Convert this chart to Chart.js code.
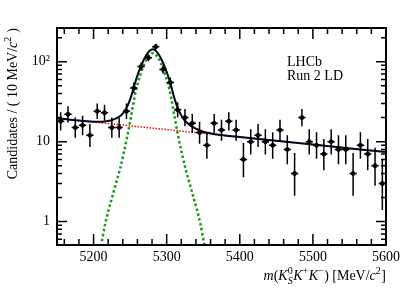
<!DOCTYPE html>
<html>
<head>
<meta charset="utf-8">
<script src="https://cdn.jsdelivr.net/npm/chart.js@4"></script>
<style>
  html, body { margin: 0; padding: 0; background: #fff; }
  #wrap { width: 407px; height: 292px; }
</style>
</head>
<body>
<div id="wrap"><canvas id="grafico"></canvas></div>
<script>
// dados (bins de 10 MeV)
const masses = [5155, 5165, 5175, 5185, 5195, 5205, 5215, 5225, 5235, 5245,
                5255, 5265, 5275, 5285, 5295, 5305, 5315, 5325, 5335, 5345,
                5355, 5365, 5375, 5385, 5395, 5405, 5415, 5425, 5435, 5445,
                5455, 5465, 5475, 5485, 5495, 5505, 5515, 5525, 5535, 5545,
                5555, 5565, 5575, 5585, 5595];
const counts = [18, 22, 15, 16, 12, 24, 23, 15, 15, 24,
                47, 87, 112, 154, 80, 55, 25, 20, 17, 13,
                9, 17, 14, 18, 14, 6, 10, 12, 10, 9,
                14, 8, 4, 20, 10, 9, 7, 10, 8, 8,
                4, 9, 7, 5, 3];
const errLow = [13.8, 17.4, 11.2, 12.0, 8.6, 19.2, 18.3, 11.2, 11.2, 19.2,
                40.2, 77.7, 101.4, 141.6, 71.1, 47.6, 20.1, 15.6, 12.9, 9.4,
                6.1, 12.9, 10.3, 13.8, 10.3, 3.6, 6.9, 8.6, 6.9, 6.1,
                10.3, 5.2, 2.1, 15.6, 6.9, 6.1, 4.4, 6.9, 5.2, 5.2,
                2.1, 6.1, 4.4, 2.8, 1.4];
const errHigh = [23.3, 27.8, 20.0, 21.1, 16.6, 30.0, 28.9, 20.0, 20.0, 30.0,
                 54.9, 97.4, 123.6, 167.4, 90.0, 63.4, 31.1, 25.6, 22.2, 17.7,
                 13.1, 22.2, 18.8, 23.3, 18.8, 9.6, 14.3, 16.6, 14.3, 13.1,
                 18.8, 12.0, 7.2, 25.6, 14.3, 13.1, 10.8, 14.3, 12.0, 12.0,
                 7.2, 13.1, 10.8, 8.4, 5.9];

// curvas do ajuste
const bkgMass = [5150, 5200, 5250, 5300, 5350, 5400, 5450, 5500, 5550, 5600];
const bkgYield = [19.6, 17.59, 15.78, 14.16, 12.71, 11.41, 10.24, 9.19, 8.24, 7.40];

const sigMass = [5196, 5201, 5206, 5211, 5216, 5221, 5226, 5231, 5236, 5241,
                 5246, 5251, 5256, 5261, 5266, 5271, 5276, 5281, 5286, 5291,
                 5296, 5301, 5306, 5311, 5316, 5321, 5326, 5331, 5336, 5341,
                 5346, 5351, 5356, 5361, 5366];
const sigYield = [0.14, 0.22, 0.35, 0.55, 0.95, 1.45, 2.1, 3.1, 4.5, 7.0,
                  11.5, 20, 36, 56, 78, 101, 120, 128, 120, 101,
                  78, 56, 36, 20, 11.5, 7.0, 4.5, 3.1, 2.1, 1.45,
                  0.95, 0.55, 0.35, 0.22, 0.14];

const totMass = [5150, 5196, 5201, 5206, 5211, 5216, 5221, 5226, 5231, 5236, 5241,
                 5246, 5251, 5256, 5261, 5266, 5271, 5276, 5281, 5286, 5291,
                 5296, 5301, 5306, 5311, 5316, 5321, 5326, 5331, 5336, 5341,
                 5346, 5351, 5356, 5361, 5366, 5400, 5500, 5600];
const totYield = [19.6, 17.88, 17.77, 17.71, 17.72, 17.94, 18.25, 18.72, 19.54, 20.77, 23.09,
                  27.42, 35.75, 51.58, 71.41, 93.24, 116.08, 134.92, 142.76, 134.60, 115.44,
                  92.28, 70.13, 49.98, 33.83, 25.18, 20.53, 17.88, 16.34, 15.20, 14.41,
                  13.77, 13.23, 12.89, 12.63, 12.41, 11.41, 9.19, 7.40];

const xTicks = [5200, 5300, 5400, 5500, 5600];
const yTicks = [1, 10, 100];
const yTickLabels = ['1', '10', '10\u00B2'];

const SERIF = '"Liberation Serif", "Times New Roman", serif';
Chart.defaults.font.family = SERIF;
Chart.defaults.color = '#000';

function pares(xs, ys) {
    return xs.map((v, i) => ({ x: v, y: ys[i] }));
}

// texto com indices e expoentes
function rich(ctx, parts, x, y, size, draw) {
    let w = 0;
    for (const p of parts) {
        if (p.t !== undefined) {
            ctx.font = (p.i ? 'italic ' : '') + size + 'px ' + SERIF;
            if (draw) ctx.fillText(p.t, x + w, y);
            w += ctx.measureText(p.t).width;
        } else {
            const s = Math.round(size * 0.7);
            let wa = 0, wb = 0;
            if (p.sup) {
                ctx.font = (p.supI ? 'italic ' : '') + s + 'px ' + SERIF;
                if (draw) ctx.fillText(p.sup, x + w, y - size * 0.4);
                wa = ctx.measureText(p.sup).width;
            }
            if (p.sub) {
                ctx.font = (p.subI ? 'italic ' : '') + s + 'px ' + SERIF;
                if (draw) ctx.fillText(p.sub, x + w, y + size * 0.28);
                wb = ctx.measureText(p.sub).width;
            }
            w += Math.max(wa, wb) + 0.5;
        }
    }
    return w;
}

const errorBars = {
    id: 'errorBars',
    afterDatasetsDraw(chart) {
        const { ctx, chartArea, scales: { x, y } } = chart;
        ctx.save();
        ctx.beginPath();
        ctx.rect(chartArea.left, chartArea.top, chartArea.width, chartArea.height);
        ctx.clip();
        ctx.strokeStyle = '#000';
        ctx.lineWidth = 1.5;
        masses.forEach((m, i) => {
            const px = x.getPixelForValue(m);
            const py = y.getPixelForValue(counts[i]);
            ctx.beginPath();
            ctx.moveTo(px, y.getPixelForValue(errLow[i]));
            ctx.lineTo(px, y.getPixelForValue(errHigh[i]));
            ctx.moveTo(x.getPixelForValue(m - 5), py);
            ctx.lineTo(x.getPixelForValue(m + 5), py);
            ctx.stroke();
        });
        ctx.restore();
    }
};

const moldura = {
    id: 'moldura',
    afterDraw(chart) {
        const { ctx, chartArea: a, scales: { x, y } } = chart;
        ctx.save();
        ctx.strokeStyle = '#000';
        ctx.lineWidth = 1.5;
        ctx.beginPath();
        // ticks do eixo x (cima e baixo)
        for (let v = 5160; v <= 5600; v += 20) {
            const px = x.getPixelForValue(v);
            const len = (v % 100 === 0) ? 11 : 6;
            ctx.moveTo(px, a.bottom); ctx.lineTo(px, a.bottom - len);
            ctx.moveTo(px, a.top); ctx.lineTo(px, a.top + len);
        }
        // ticks do eixo y (log)
        for (let d = -1; d <= 2; d++) {
            for (let k = 1; k <= 9; k++) {
                const v = k * Math.pow(10, d);
                if (v < y.min || v > y.max) continue;
                const py = y.getPixelForValue(v);
                const len = (k === 1) ? 10 : 5;
                ctx.moveTo(a.left, py); ctx.lineTo(a.left + len, py);
                ctx.moveTo(a.right, py); ctx.lineTo(a.right - len, py);
            }
        }
        ctx.stroke();
        ctx.lineWidth = 2;
        ctx.strokeRect(a.left, a.top, a.right - a.left, a.bottom - a.top);

        ctx.fillStyle = '#000';
        ctx.textAlign = 'left';
        ctx.textBaseline = 'alphabetic';

        // titulo do eixo x
        const xt = [
            { t: 'm', i: true }, { t: '(' }, { t: 'K', i: true },
            { sup: '0', sub: 'S', subI: true }, { t: 'K', i: true }, { sup: '+' },
            { t: 'K', i: true }, { sup: '\u2212' }, { t: ') [MeV/' },
            { t: 'c', i: true }, { sup: '2' }, { t: ']' }
        ];
        const wx = rich(ctx, xt, 0, 0, 14, false);
        rich(ctx, xt, a.right - wx, 280, 14, true);

        // titulo do eixo y
        const yt = [
            { t: 'Candidates / ( 10 MeV/' }, { t: 'c', i: true }, { sup: '2' }, { t: ' )' }
        ];
        ctx.translate(17, a.top);
        ctx.rotate(-Math.PI / 2);
        const wy = rich(ctx, yt, 0, 0, 14, false);
        rich(ctx, yt, -wy, 0, 14, true);
        ctx.restore();

        ctx.save();
        ctx.fillStyle = '#000';
        ctx.font = '14px ' + SERIF;
        ctx.fillText('LHCb', 287, 66);
        ctx.fillText('Run 2 LD', 287, 80);
        ctx.restore();
    }
};

new Chart(document.getElementById('grafico'), {
    type: 'scatter',
    data: {
        datasets: [
            {
                label: 'Dados',
                data: pares(masses, counts),
                backgroundColor: '#000',
                borderColor: '#000',
                pointRadius: 2,
                pointHoverRadius: 2
            },
            {
                type: 'line',
                label: 'Sinal',
                data: pares(sigMass, sigYield),
                borderColor: '#109c10',
                borderWidth: 2.5,
                borderDash: [2.5, 2.5],
                pointRadius: 0,
                fill: false,
                cubicInterpolationMode: 'monotone'
            },
            {
                type: 'line',
                label: 'Total',
                data: pares(totMass, totYield),
                borderColor: '#050520',
                borderWidth: 2,
                pointRadius: 0,
                fill: false,
                cubicInterpolationMode: 'monotone'
            },
            {
                type: 'line',
                label: 'Fundo',
                data: pares(bkgMass, bkgYield),
                borderColor: '#ff0000',
                borderWidth: 1.5,
                borderDash: [1.5, 1.5],
                pointRadius: 0,
                fill: false
            }
        ]
    },
    options: {
        responsive: true,
        maintainAspectRatio: false,
        animation: false,
        layout: { padding: { top: 28, right: 21, left: 0, bottom: 0 } },
        plugins: {
            legend: { display: false },
            tooltip: { enabled: false }
        },
        scales: {
            x: {
                type: 'linear',
                min: 5150,
                max: 5600,
                grid: { display: false, drawTicks: false },
                border: { display: false },
                afterBuildTicks: (s) => { s.ticks = xTicks.map(v => ({ value: v })); },
                afterFit: (s) => { s.height = 47; },
                ticks: {
                    padding: 4,
                    maxRotation: 0,
                    font: { size: 14, family: SERIF },
                    callback: (v) => String(v)
                }
            },
            y: {
                type: 'logarithmic',
                min: 0.51,
                max: 264,
                grid: { display: false, drawTicks: false },
                border: { display: false },
                afterBuildTicks: (s) => { s.ticks = yTicks.map(v => ({ value: v })); },
                afterFit: (s) => { s.width = 57; },
                ticks: {
                    padding: 7,
                    font: { size: 14, family: SERIF },
                    callback: (v) => {
                        const i = yTicks.indexOf(v);
                        return i >= 0 ? yTickLabels[i] : '';
                    }
                }
            }
        }
    },
    plugins: [errorBars, moldura]
});
</script>
</body>
</html>
